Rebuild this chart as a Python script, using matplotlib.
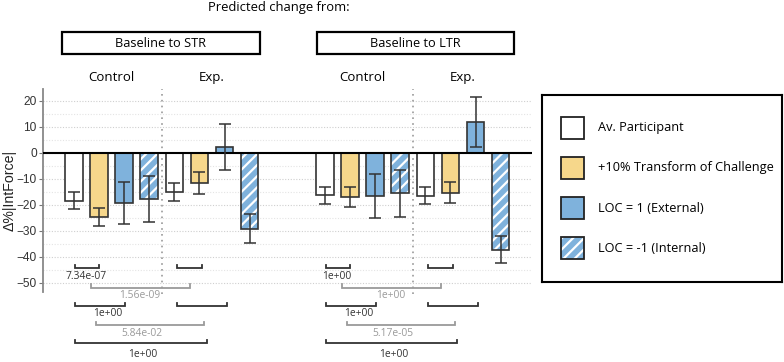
import numpy as np
import matplotlib.pyplot as plt
import matplotlib.transforms as mtransforms
from matplotlib.patches import Rectangle

plt.rcParams['hatch.linewidth'] = 1.6
plt.rcParams['hatch.color'] = 'white'

# ---- data ----
conditions = ['Av. Participant', '+10% Transform of Challenge',
              'LOC = 1 (External)', 'LOC = -1 (Internal)']
panels = ['Baseline to STR', 'Baseline to LTR']
groups = ['Control', 'Exp.']

# order: Control (4 conditions), then Exp. (4 conditions)
str_means = [-18.3, -24.7, -19.1, -17.6, -14.9, -11.5, 2.3, -29.2]
str_errs = [3.4, 3.4, 8.1, 8.8, 3.5, 4.2, 8.7, 5.6]
ltr_means = [-16.3, -16.9, -16.5, -15.6, -16.4, -15.3, 12.0, -37.2]
ltr_errs = [3.3, 3.8, 8.4, 8.9, 3.4, 4.0, 9.7, 5.2]

str_pvals = ['7.34e-07', '1.56e-09', '1e+00', '5.84e-02', '1e+00']
ltr_pvals = ['1e+00', '1e+00', '1e+00', '5.17e-05', '1e+00']

colors = ['white', '#F6D78B', '#7FB2DC', '#7FB2DC']
hatches = [None, None, None, '///']

# bracket layout (x in bar slots within a panel): x1, x2, y, label idx, colour, label x, label drop
brackets = [
    (0.04, 1.01, -44.4, 0, '#333333', 0.48, 1.0),
    (4.11, 5.11, -44.4, None, '#333333', None, 0),
    (0.67, 4.63, -51.9, 1, '#9a9a9a', 2.62, 1.0),
    (0.04, 2.04, -58.9, 2, '#333333', 1.36, 0.8),
    (4.10, 6.10, -58.9, None, '#333333', None, 0),
    (0.88, 5.19, -66.3, 3, '#9a9a9a', 2.70, 0.9),
    (0.04, 5.28, -73.3, 4, '#333333', 2.75, 2.2),
]

head_font = ['Open Sans', 'DejaVu Sans']
num_font = ['Liberation Sans', 'DejaVu Sans']

fig = plt.figure(figsize=(7.84, 3.62), dpi=100)
W, H = 784, 362
ax = fig.add_axes([43 / W, 1 - 292 / H, (532 - 43) / W, (292 - 89) / H])

panel_means = [str_means, ltr_means]
panel_errs = [str_errs, ltr_errs]
panel_pvals = [str_pvals, ltr_pvals]
offsets = [0, 10]
slots = np.array([0, 1, 2, 3, 4, 5, 6, 7])

for p in range(2):
    xs = slots + offsets[p]
    means = panel_means[p]
    errs = panel_errs[p]
    for i, (x, m, e) in enumerate(zip(xs, means, errs)):
        c = i % 4
        ax.bar(x, m, width=0.7, color=colors[c], hatch=hatches[c],
               edgecolor='white' if hatches[c] else '#333333',
               linewidth=0 if hatches[c] else 1.2, zorder=2)
        if hatches[c]:
            ax.bar(x, m, width=0.7, fill=False, edgecolor='#333333',
                   linewidth=1.2, zorder=2.5)
        ax.errorbar(x, m, yerr=e, fmt='none', ecolor='#333333',
                    elinewidth=1.1, capsize=4, capthick=1.1, zorder=4)
    ax.axvline(offsets[p] + 3.5, ymin=-0.01, color='#999999', ls=(0, (1, 2.5)),
               lw=1.2, zorder=1, clip_on=False)

    # significance brackets
    for x1, x2, y, li, col, lx, drop in brackets:
        x1 += offsets[p]
        x2 += offsets[p]
        ax.plot([x1, x1, x2, x2], [y + 1.3, y, y, y + 1.3], color=col,
                lw=1.3, clip_on=False, zorder=5, solid_joinstyle='miter')
        if li is not None:
            ax.text(lx + offsets[p], y - drop, panel_pvals[p][li], ha='center',
                    va='top', fontsize=7.4, color=col, family=head_font,
                    clip_on=False)

ax.axhline(0, color='black', lw=1.5, zorder=3)

ax.set_xlim(-1.235, 18.25)
ax.set_ylim(-53.5, 24.6)
ax.set_yticks([20, 10, 0, -10, -20, -30, -40, -50])
ax.set_yticks([15, 5, -5, -15, -25, -35, -45], minor=True)
ax.set_xticks([])
ax.yaxis.grid(True, which='major', color='#cfcfcf', ls=(0, (1, 1.5)), lw=0.8)
ax.yaxis.grid(True, which='minor', color='#e4e4e4', ls=(0, (1, 1.5)), lw=0.8)
ax.set_axisbelow(True)
ax.tick_params(axis='y', which='major', labelsize=8.6, labelcolor='#333333',
               color='#777777', length=3, pad=1.5)
ax.tick_params(axis='y', which='minor', length=0)
for s in ['top', 'right', 'bottom']:
    ax.spines[s].set_visible(False)
ax.spines['left'].set_color('#888888')
ax.spines['left'].set_linewidth(1.3)
ax.set_ylabel('Δ%|IntForce|', fontsize=10.2, color='#222222', family=num_font)
ax.yaxis.set_label_coords(-0.054, 0.5)
for lab in ax.get_yticklabels():
    lab.set_family(num_font)

# headers
trans = mtransforms.blended_transform_factory(ax.transData, ax.transAxes)
ybox0 = (292 - 54) / 203
ybox1 = (292 - 32) / 203
box_x = [(-0.48, 7.41), (9.67, 17.53)]
for p in range(2):
    bx0, bx1 = box_x[p]
    ax.add_patch(Rectangle((bx0, ybox0), bx1 - bx0, ybox1 - ybox0,
                           transform=trans, fill=False, edgecolor='black',
                           lw=1.6, clip_on=False))
    ax.text((bx0 + bx1) / 2, (ybox0 + ybox1) / 2, panels[p], transform=trans,
            ha='center', va='center', fontsize=9.2, family=head_font)
    for g in range(2):
        ax.text(offsets[p] + 1.5 + 4 * g, (292 - 77.7) / 203, groups[g],
                transform=trans, ha='center', va='center', fontsize=9.5,
                family=head_font)

fig.text(279 / W, 1 - 8 / H, 'Predicted change from:', ha='center',
         va='center', fontsize=9.4, family=head_font)

# legend panel
lax = fig.add_axes([541.7 / W, 1 - 281.7 / H, 240 / W, 186.7 / H])
lax.set_xlim(0, 240)
lax.set_ylim(186.7, 0)
lax.set_xticks([])
lax.set_yticks([])
for s in lax.spines.values():
    s.set_linewidth(1.5)
    s.set_color('black')
for i, lab in enumerate(conditions):
    yc = 33 + 40 * i
    if hatches[i]:
        lax.add_patch(Rectangle((19, yc - 11), 23.6, 22, facecolor=colors[i],
                                hatch=hatches[i], edgecolor='white', lw=0))
        lax.add_patch(Rectangle((19, yc - 11), 23.6, 22, fill=False,
                                edgecolor='#222222', lw=1.3))
    else:
        lax.add_patch(Rectangle((19, yc - 11), 23.6, 22, facecolor=colors[i],
                                edgecolor='#222222', lw=1.3))
    lax.text(56.6, yc, lab, ha='left', va='center', fontsize=9.2,
             family=head_font)

fig.savefig('out.png', dpi=100)
